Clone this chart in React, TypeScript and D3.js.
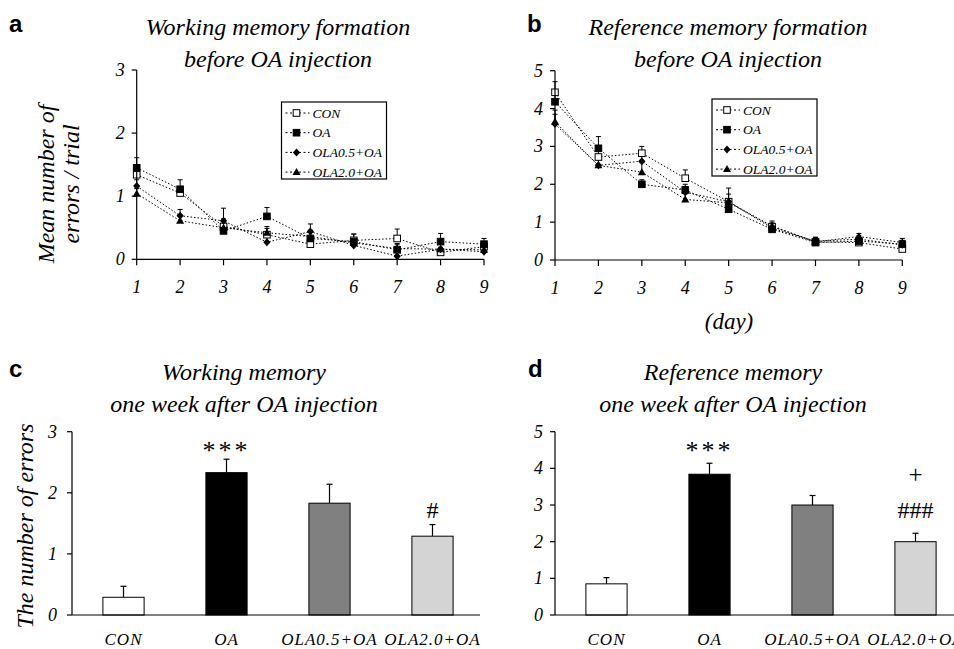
import React from 'react';
import * as d3 from 'd3';

const days = [1, 2, 3, 4, 5, 6, 7, 8, 9];
const groups = ['CON', 'OA', 'OLA0.5+OA', 'OLA2.0+OA'];
const markers = ['openSquare', 'square', 'diamond', 'triangle'];

// panel a: working memory formation (mean, upper error)
const wmCON = [1.34, 1.05, 0.52, 0.39, 0.24, 0.3, 0.33, 0.11, 0.2];
const wmOA = [1.45, 1.11, 0.45, 0.68, 0.33, 0.28, 0.15, 0.28, 0.24];
const wmOLA05 = [1.16, 0.69, 0.61, 0.27, 0.44, 0.22, 0.05, 0.16, 0.12];
const wmOLA20 = [1.04, 0.61, 0.5, 0.42, 0.36, 0.26, 0.17, 0.16, 0.15];
const wmErrCON = [0.12, 0.1, 0.12, 0.1, 0.1, 0.1, 0.15, 0.08, 0.08];
const wmErrOA = [0.16, 0.15, 0.15, 0.14, 0.1, 0.12, 0.08, 0.13, 0.09];
const wmErrOLA05 = [0.1, 0.1, 0.2, 0.08, 0.12, 0.08, 0.08, 0.1, 0.08];
const wmErrOLA20 = [0.08, 0.09, 0.1, 0.1, 0.1, 0.08, 0.08, 0.08, 0.08];

// panel b: reference memory formation
const rmCON = [4.43, 2.72, 2.82, 2.16, 1.54, 0.88, 0.48, 0.46, 0.29];
const rmOA = [4.18, 2.95, 2.0, 1.85, 1.34, 0.81, 0.46, 0.5, 0.42];
const rmOLA05 = [3.59, 2.5, 2.61, 1.79, 1.54, 0.84, 0.5, 0.55, 0.4];
const rmOLA20 = [3.65, 2.5, 2.32, 1.6, 1.51, 0.9, 0.48, 0.62, 0.46];
const rmErrCON = [0.28, 0.2, 0.18, 0.22, 0.36, 0.1, 0.1, 0.08, 0.08];
const rmErrOA = [0.2, 0.31, 0.12, 0.15, 0.15, 0.1, 0.1, 0.1, 0.1];
const rmErrOLA05 = [0.37, 0.2, 0.2, 0.15, 0.2, 0.1, 0.1, 0.1, 0.1];
const rmErrOLA20 = [0.2, 0.15, 0.25, 0.15, 0.1, 0.13, 0.12, 0.08, 0.11];

// panels c, d: one week after injection
const wmWeek = [0.29, 2.33, 1.83, 1.29];
const wmWeekErr = [0.18, 0.22, 0.31, 0.19];
const rmWeek = [0.85, 3.84, 3.0, 2.0];
const rmWeekErr = [0.17, 0.3, 0.26, 0.23];
const barColors = ['#ffffff', '#000000', '#808080', '#d4d4d4'];

const serif = '"Liberation Serif", "Times New Roman", serif';
const sans = '"Liberation Sans", Arial, sans-serif';

const Marker = ({ type, x, y }) => {
  if (type === 'openSquare' || type === 'square') {
    return <rect x={x - 3.3} y={y - 3.3} width={6.6} height={6.6}
      fill={type === 'square' ? '#000' : '#fff'} stroke="#000" strokeWidth={1} />;
  }
  if (type === 'diamond') {
    return <path d={`M${x},${y - 4}L${x + 3.6},${y}L${x},${y + 4}L${x - 3.6},${y}Z`} fill="#000" />;
  }
  return <path d={`M${x},${y - 4.2}L${x + 4},${y + 3}L${x - 4},${y + 3}Z`} fill="#000" />;
};

const LinePanel = ({ left, right, bottom, top, maxY, series, errors, legend, yLabel }) => {
  const x = d3.scaleLinear().domain([1, 9]).range([left, right]);
  const y = d3.scaleLinear().domain([0, maxY]).range([bottom, top]);
  const line = d3.line().x((d, i) => x(days[i])).y(d => y(d));
  const yTicks = d3.range(0, maxY + 1);
  return (
    <g>
      {series.map((s, k) => (
        <path key={k} d={line(s)} fill="none" stroke="#000" strokeWidth={1} strokeDasharray="1.5,2" />
      ))}
      {series.map((s, k) => s.map((v, i) => {
        const cx = x(days[i]);
        const ty = y(v + errors[k][i]);
        return (
          <g key={`e${k}-${i}`} stroke="#000" strokeWidth={1}>
            <line x1={cx} x2={cx} y1={y(v)} y2={ty} />
            <line x1={cx - 2.5} x2={cx + 2.5} y1={ty} y2={ty} />
          </g>
        );
      }))}
      {series.map((s, k) => s.map((v, i) => (
        <Marker key={`m${k}-${i}`} type={markers[k]} x={x(days[i])} y={y(v)} />
      )))}
      {/* axes */}
      <line x1={left} x2={left} y1={bottom} y2={top} stroke="#000" strokeWidth={1.2} />
      <line x1={left} x2={right} y1={bottom} y2={bottom} stroke="#000" strokeWidth={1.2} />
      {yTicks.map(t => (
        <g key={`yt${t}`}>
          <line x1={left - 5} x2={left} y1={y(t)} y2={y(t)} stroke="#000" strokeWidth={1.2} />
          <text x={left - 12} y={y(t) + 6} textAnchor="end" fontFamily={serif} fontStyle="italic" fontSize={18}>{t}</text>
        </g>
      ))}
      {days.map(d => (
        <g key={`xt${d}`}>
          <line x1={x(d)} x2={x(d)} y1={bottom} y2={bottom + 6} stroke="#000" strokeWidth={1.2} />
          <text x={x(d)} y={bottom + 34} textAnchor="middle" fontFamily={serif} fontStyle="italic" fontSize={18}>{d}</text>
        </g>
      ))}
      {/* legend */}
      <rect x={legend.x} y={legend.y} width={105} height={77} fill="#fff" stroke="#000" strokeWidth={1.2} />
      {groups.map((g, k) => {
        const ly = legend.y + 11 + k * 19.7;
        return (
          <g key={`lg${k}`}>
            <line x1={legend.x + 4} x2={legend.x + 28} y1={ly} y2={ly} stroke="#000" strokeDasharray="2,2.5" />
            <Marker type={markers[k]} x={legend.x + 15} y={ly} />
            <text x={legend.x + 31} y={ly + 4.5} fontFamily={serif} fontStyle="italic" fontSize={13.5}>{g}</text>
          </g>
        );
      })}
      {yLabel}
    </g>
  );
};

const BarPanel = ({ left, right, bottom, top, maxY, values, errs, tickX, axisEnd }) => {
  const x = d3.scaleBand().domain(groups).range([left, right]).paddingInner(0.6).paddingOuter(0.3);
  const y = d3.scaleLinear().domain([0, maxY]).range([bottom, top]);
  const yTicks = d3.range(0, maxY + 1);
  return (
    <g>
      {values.map((v, i) => {
        const bx = x(groups[i]);
        const cx = bx + x.bandwidth() / 2;
        const ty = y(v + errs[i]);
        return (
          <g key={`b${i}`}>
            <line x1={cx} x2={cx} y1={y(v)} y2={ty} stroke="#000" strokeWidth={1.2} />
            <line x1={cx - 3} x2={cx + 3} y1={ty} y2={ty} stroke="#000" strokeWidth={1.2} />
            <rect x={bx} y={y(v)} width={x.bandwidth()} height={bottom - y(v)} fill={barColors[i]} stroke="#000" strokeWidth={1} />
            <text x={cx} y={bottom + 30} textAnchor="middle" fontFamily={serif} fontStyle="italic" fontSize={17} letterSpacing={1}>{groups[i]}</text>
          </g>
        );
      })}
      <line x1={left} x2={left} y1={bottom} y2={top} stroke="#000" strokeWidth={1.2} />
      <line x1={left} x2={axisEnd} y1={bottom} y2={bottom} stroke="#000" strokeWidth={1.2} />
      {yTicks.map(t => (
        <g key={`yt${t}`}>
          <line x1={left - 5} x2={left} y1={y(t)} y2={y(t)} stroke="#000" strokeWidth={1.2} />
          <text x={tickX} y={y(t) + 6} textAnchor="end" fontFamily={serif} fontStyle="italic" fontSize={18}>{t}</text>
        </g>
      ))}
    </g>
  );
};

const Title = ({ cx, y, lines }) => (
  <g fontFamily={serif} fontStyle="italic" fontSize={24} textAnchor="middle">
    {lines.map((l, i) => <text key={i} x={cx} y={y + i * 32}>{l}</text>)}
  </g>
);

const PanelLetter = ({ x, y, t }) => (
  <text x={x} y={y} fontFamily={sans} fontWeight="bold" fontSize={24}>{t}</text>
);

export default function App() {
  const cBand = d3.scaleBand().domain(groups).range([72, 484]).paddingInner(0.6).paddingOuter(0.3);
  const dBand = d3.scaleBand().domain(groups).range([555, 967]).paddingInner(0.6).paddingOuter(0.3);
  const mid = (b, g) => b(g) + b.bandwidth() / 2;
  return (
    <svg width={954} height={649} style={{ position: 'absolute', left: 0, top: 0, background: '#fff' }}>
      <rect width={954} height={649} fill="#fff" />
      <PanelLetter x={9} y={32} t="a" />
      <PanelLetter x={527} y={32} t="b" />
      <PanelLetter x={9} y={377} t="c" />
      <PanelLetter x={528} y={377} t="d" />

      <Title cx={278} y={35} lines={['Working memory formation', 'before OA injection']} />
      <Title cx={728} y={35} lines={['Reference memory formation', 'before OA injection']} />
      <Title cx={244} y={380} lines={['Working memory', 'one week after OA injection']} />
      <Title cx={733} y={380} lines={['Reference memory', 'one week after OA injection']} />

      <LinePanel left={136.7} right={484} bottom={259.3} top={70} maxY={3}
        series={[wmCON, wmOA, wmOLA05, wmOLA20]}
        errors={[wmErrCON, wmErrOA, wmErrOLA05, wmErrOLA20]}
        legend={{ x: 281.5, y: 102 }}
        yLabel={
          <g fontFamily={serif} fontStyle="italic" fontSize={24} textAnchor="middle">
            <text transform="translate(54,184) rotate(-90)">Mean number of</text>
            <text transform="translate(79,184) rotate(-90)">errors / trial</text>
          </g>
        } />
      <LinePanel left={555} right={902.3} bottom={260} top={70.7} maxY={5}
        series={[rmCON, rmOA, rmOLA05, rmOLA20]}
        errors={[rmErrCON, rmErrOA, rmErrOLA05, rmErrOLA20]}
        legend={{ x: 712, y: 99 }}
        yLabel={null} />
      <text x={729} y={329} textAnchor="middle" fontFamily={serif} fontStyle="italic" fontSize={23}>(day)</text>

      <BarPanel left={72} right={484} bottom={615} top={431.7} maxY={3}
        values={wmWeek} errs={wmWeekErr} tickX={57} axisEnd={480} />
      <text transform="translate(33,526) rotate(-90)" textAnchor="middle" fontFamily={serif} fontStyle="italic" fontSize={24}>The number of errors</text>
      <text x={mid(cBand, 'OA')} y={459} textAnchor="middle" fontFamily={serif} fontSize={26} letterSpacing={3}>***</text>
      <text x={mid(cBand, 'OLA2.0+OA')} y={518} textAnchor="middle" fontFamily={serif} fontSize={24}>#</text>

      <BarPanel left={555} right={967} bottom={615} top={431.7} maxY={5}
        values={rmWeek} errs={rmWeekErr} tickX={543} axisEnd={954} />
      <text x={mid(dBand, 'OA')} y={459} textAnchor="middle" fontFamily={serif} fontSize={26} letterSpacing={3}>***</text>
      <text x={mid(dBand, 'OLA2.0+OA')} y={483} textAnchor="middle" fontFamily={serif} fontSize={25}>+</text>
      <text x={mid(dBand, 'OLA2.0+OA')} y={518} textAnchor="middle" fontFamily={serif} fontSize={24}>###</text>
    </svg>
  );
}
